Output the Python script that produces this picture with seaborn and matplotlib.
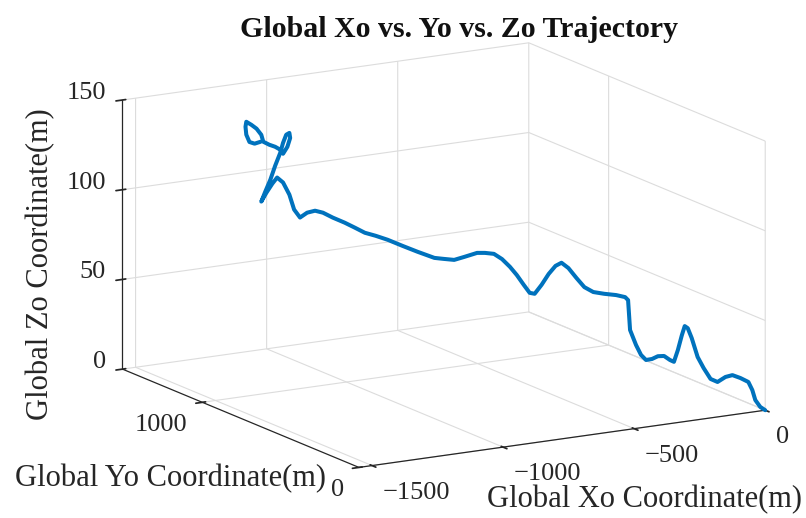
import numpy as np
import pandas as pd
import matplotlib
matplotlib.use("Agg")
import matplotlib.pyplot as plt
import seaborn as sns

# ---- data ----
xo = [0, -12.6, -25.1, -32.7, -42.7, -62.9, -83, -100.6, -120.7, -138.3,
      -155.9, -171, -186, -196, -203.7, -211, -221, -231, -241, -256,
      -271.6, -286.6, -301.7, -314.3, -326.9, -342, -344.5, -347, -354.5, -377.2,
      -407.3, -435, -457.6, -477.7, -497.9, -515.5, -530.6, -548, -565.8, -583.4,
      -596, -611, -628.6, -646, -666, -686.5, -709, -729, -761.9, -787,
      -814.7, -837, -880, -918, -955.5, -985.7, -1013, -1038.5, -1064, -1094,
      -1119, -1139, -1159, -1177, -1192, -1204, -1220, -1235, -1247, -1262,
      -1275, -1265, -1252, -1240, -1227, -1220, -1212, -1204, -1202, -1209,
      -1220, -1227, -1240, -1255, -1270, -1275, -1287, -1300, -1313, -1315,
      -1313, -1305, -1292, -1277]
yo = [0, 10.7, 21.3, 27.8, 36.3, 53.5, 70.6, 85.5, 102.6, 117.6,
      132.5, 145.4, 158.1, 166.6, 173.1, 179.4, 187.9, 196.4, 204.9, 217.6,
      230.9, 243.6, 256.4, 267.2, 277.9, 290.7, 292.8, 295, 301.3, 320.6,
      346.2, 369.8, 389, 406, 423.2, 438.2, 451, 465.8, 480.9, 495.9,
      506.6, 519.4, 534.3, 549.1, 566.1, 583.5, 602.7, 619.7, 647.6, 669,
      692.5, 711.5, 748, 780.3, 812.2, 837.8, 861.1, 882.7, 904.4, 929.9,
      951.2, 968.2, 985.2, 1000.5, 1013.2, 1023.4, 1037, 1049.8, 1060, 1072.7,
      1083.8, 1075.3, 1064.2, 1054, 1043, 1037, 1030.2, 1023.4, 1021.7, 1027.7,
      1037, 1043, 1054, 1066.8, 1079.5, 1083.8, 1094, 1105, 1116, 1117.8,
      1116, 1109.3, 1098.2, 1085.5]
zo = [0, 1.7, 5.4, 10.9, 15.3, 17.3, 18.7, 17.5, 14.5, 16.0,
      21.9, 27.9, 38.3, 43.7, 44.8, 39.6, 31.3, 24.6, 25.5, 27.6,
      27.3, 25.6, 24.9, 27.6, 33.0, 41.2, 49.5, 57.8, 59.4, 60.3,
      60.7, 61.4, 63.9, 68.8, 74.1, 76.9, 75.0, 70.3, 64.1, 58.9,
      59.3, 63.6, 68.9, 73.3, 77.4, 80.1, 80.4, 80.2, 77.6, 75.7,
      76.0, 76.3, 79.3, 82.2, 85.2, 87.1, 88.5, 91.1, 93.6, 96.1,
      98.6, 99.5, 98.2, 95.3, 99.6, 107.8, 114.4, 117.0, 113.5, 108.3,
      103.2, 108.8, 115.7, 123.5, 130.9, 136.5, 141.1, 142.2, 139.4, 134.4,
      130.4, 132.6, 134.1, 135.1, 136.6, 140.4, 143.7, 145.7, 147.3, 144.5,
      140.1, 136.1, 135.3, 136.5]

x_ticks = [-1500, -1000, -500, 0]
y_ticks = [0, 1000]
z_ticks = [0, 50, 100, 150]

title = "Global Xo vs. Yo vs. Zo Trajectory"
x_label = "Global Xo Coordinate(m)"
y_label = "Global Yo Coordinate(m)"
z_label = "Global Zo Coordinate(m)"

df = pd.DataFrame({"x": xo, "y": yo, "z": zo})

sns.set_theme(style="white")
plt.rcParams["font.family"] = ["Liberation Serif", "DejaVu Serif"]

fig = plt.figure(figsize=(8.06, 5.18), dpi=100)
ax = fig.add_subplot(projection="3d", proj_type="ortho")
ax.set_position([0.042, -0.006, 1.0, 1.0])

line_color = "#0072BD"
ax.plot(df["x"], df["y"], df["z"], color=line_color, lw=2.9,
        solid_capstyle="round", solid_joinstyle="round", clip_on=False)

ax.set_xlim(-1550, 0)
ax.set_ylim(0, 1510)
ax.set_zlim(0, 150)
ax.set_xticks(x_ticks)
ax.set_yticks(y_ticks)
ax.set_zticks(z_ticks)
ax.set_box_aspect((1, 1, 0.59), zoom=1.35)
ax.view_init(elev=14, azim=-120.2)

txt = "#262626"
for axis in (ax.xaxis, ax.yaxis, ax.zaxis):
    axis.set_pane_color((1, 1, 1, 0))
    axis.pane.set_edgecolor("#dcdcdc")
    axis._axinfo["grid"]["color"] = "#dcdcdc"
    axis._axinfo["grid"]["linewidth"] = 0.8
    axis.line.set_color(txt)
    axis.line.set_linewidth(0.9)

ax.xaxis.set_tick_params(labelsize=19, colors=txt, pad=0.5)
ax.yaxis.set_tick_params(labelsize=19, colors=txt, pad=-1)
ax.zaxis.set_tick_params(labelsize=19, colors=txt, pad=-3)
ax.set_xticklabels([f"{v:d}".replace("-", "\u2212") for v in x_ticks], ha="left")
ax.set_yticklabels([f"{v:d}" for v in y_ticks], ha="right")
ax.set_zticklabels([f"{v:d}" for v in z_ticks], ha="right", va="baseline")

fig.text(0.57, 0.943, title, fontsize=21.5, fontweight="bold", ha="center", va="center", color="#111111")
fig.text(0.604, 0.035, x_label, fontsize=22, ha="left", va="center", color=txt)
fig.text(0.018, 0.077, y_label, fontsize=22, ha="left", va="center", color=txt)
fig.text(0.05, 0.49, z_label, fontsize=22, ha="center", va="center", rotation=90, color=txt)

fig.savefig("out.png", dpi=100)
